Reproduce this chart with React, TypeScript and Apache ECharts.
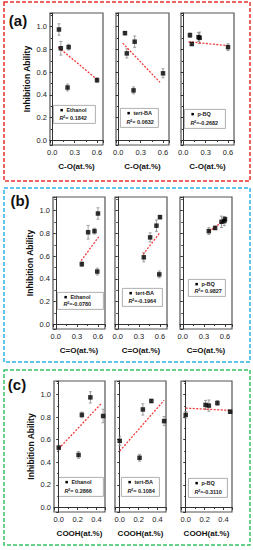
import React, { useEffect, useRef } from "react";
import * as echarts from "echarts";

// Samples A..E : x content of surface groups
const coX = [0.6, 0.205, 0.22, 0.09, 0.115];
const cdoX = [0.37, 0.59, 0.55, 0.6, 0.46];
const coohX = [0.0, 0.21, 0.245, 0.335, 0.47];

// inhibition ability (y) and error for each scavenger
const ethanolY = [0.53, 0.465, 0.82, 0.975, 0.81];
const ethanolErr = [0.02, 0.03, 0.025, 0.05, 0.06];
const tertBAY = [0.59, 0.44, 0.868, 0.943, 0.765];
const tertBAErr = [0.04, 0.03, 0.05, 0.015, 0.04];
const pBQY = [0.82, 0.908, 0.902, 0.925, 0.848];
const pBQErr = [0.03, 0.04, 0.05, 0.02, 0.015];

const scavengers = ["Ethanol", "tert-BA", "p-BQ"];

// fitted line end points [x0, y0, x1, y1]
const fitCO = [
  [0.08, 0.82, 0.61, 0.53],
  [0.06, 0.855, 0.56, 0.51],
  [0.07, 0.867, 0.6, 0.833],
];
const fitCDO = [
  [0.36, 0.56, 0.61, 0.77],
  [0.36, 0.615, 0.59, 0.8],
  [0.37, 0.815, 0.61, 0.925],
];
const fitCOOH = [
  [0.0, 0.52, 0.45, 0.92],
  [0.0, 0.5, 0.47, 0.95],
  [0.0, 0.88, 0.47, 0.86],
];

const r2CO = ["0.1842", "0.0632", "-0.2682"];
const r2CDO = ["-0.0780", "-0.1964", "0.9827"];
const r2COOH = ["0.2866", "0.1084", "-0.3110"];

const xNames = ["C-O(at.%)", "C=O(at.%)", "COOH(at.%)"];
const panelLabels = ["(a)", "(b)", "(c)"];
const yTitle = "Inhibition Ability";

const FONT = 'Arial, "Liberation Sans", Helvetica, sans-serif';

export default function App() {
  const ref = useRef<HTMLDivElement>(null);
  useEffect(() => {
    const chart = echarts.init(ref.current!, undefined, { renderer: "svg" });
    const yData = [ethanolY, tertBAY, pBQY];
    const eData = [ethanolErr, tertBAErr, pBQErr];
    const rows = [
      { xs: coX, fits: fitCO, r2: r2CO, xMin: -0.03, xMax: 0.68, xSplit: 2, step: 0.3, top: 13, h: 132, lefts: [50, 116, 181], w: 53,
        border: [4, 2, 246, 179], color: "#e8302e", label: [18, 20],
        boxes: [[53, 105, 42, 18], [120, 108, 38, 19], [184, 109, 41, 19]] },
      { xs: cdoX, fits: fitCDO, r2: r2CDO, xMin: -0.04, xMax: 0.7, xSplit: 2, step: 0.3, top: 197, h: 132, lefts: [53, 115, 180], w: 52,
        border: [4, 188, 246, 174], color: "#2fb4e6", label: [20, 200],
        boxes: [[57, 292, 46, 17], [122, 288, 40, 18], [188, 279, 37, 17]] },
      { xs: coohX, fits: fitCOOH, r2: r2COOH, xMin: -0.05, xMax: 0.49, xSplit: 3, step: 0.2, top: 381, h: 131, lefts: [54, 115, 181], w: 51,
        border: [4, 370, 246, 175], color: "#35c466", label: [17, 384],
        boxes: [[58, 477, 45, 19], [121, 477, 38, 19], [188, 478, 39, 19]] },
    ];
    const grid: any[] = [];
    const xAxis: any[] = [];
    const yAxis: any[] = [];
    const series: any[] = [];
    const graphic: any[] = [];
    const fmt = (step: number) => (v: number) => {
      const k = v / step;
      if (Math.abs(k - Math.round(k)) > 1e-6) return "";
      return Math.abs(v) < 1e-9 ? "0.0" : v.toFixed(1);
    };
    rows.forEach((r, ri) => {
      graphic.push({
        type: "rect",
        shape: { x: r.border[0], y: r.border[1], width: r.border[2], height: r.border[3] },
        style: { fill: "none", stroke: r.color, lineWidth: 1.5, lineDash: [4, 2] },
      });
      graphic.push({
        type: "text",
        x: r.label[0],
        y: r.label[1],
        style: { text: panelLabels[ri], font: `bold 15px ${FONT}`, fill: "#111", align: "center", verticalAlign: "middle" },
      });
      for (let c = 0; c < 3; c++) {
        const gi = ri * 3 + c;
        grid.push({ left: r.lefts[c], top: r.top, width: r.w, height: r.h, show: true, borderColor: "#555", borderWidth: 1.2, backgroundColor: "#fff" });
        xAxis.push({
          type: "value", gridIndex: gi, min: r.xMin, max: r.xMax, splitNumber: r.xSplit,
          name: xNames[ri], nameLocation: "middle", nameGap: 17,
          nameTextStyle: { fontFamily: FONT, fontWeight: "bold", fontSize: 8, color: "#111" },
          axisLine: { show: true, lineStyle: { color: "#333", width: 1 } },
          axisTick: { show: true, inside: false, length: 2.5, lineStyle: { color: "#333" } },
          minorTick: { show: true, splitNumber: 2, length: 1.5, lineStyle: { color: "#333" } },
          axisLabel: { fontFamily: FONT, fontSize: 7.5, color: "#222", margin: 3, formatter: fmt(r.step), showMinLabel: false, showMaxLabel: false },
          splitLine: { show: false },
        });
        yAxis.push({
          type: "value", gridIndex: gi, min: -0.04, max: 1.12, splitNumber: 5,
          name: c === 0 ? yTitle : "", nameLocation: "middle", nameGap: 19,
          nameTextStyle: { fontFamily: FONT, fontWeight: "bold", fontSize: 8.5, color: "#111" },
          axisLine: { show: true, lineStyle: { color: "#333", width: 1 } },
          axisTick: { show: true, inside: false, length: 2.5, lineStyle: { color: "#333" } },
          minorTick: { show: true, splitNumber: 2, length: 1.5, lineStyle: { color: "#333" } },
          axisLabel: { show: c === 0, fontFamily: FONT, fontSize: 7.5, color: "#222", margin: 3, formatter: fmt(0.2), showMinLabel: false, showMaxLabel: false },
          splitLine: { show: false },
        });
        const ys = yData[c];
        const es = eData[c];
        series.push({
          type: "custom", xAxisIndex: gi, yAxisIndex: gi, z: 2,
          data: r.xs.map((x, i) => [x, ys[i], es[i]]),
          encode: { x: 0, y: 1 },
          renderItem: (params: any, api: any) => {
            const x = api.value(0), y = api.value(1), e = api.value(2);
            const t = api.coord([x, y + e]);
            const b = api.coord([x, y - e]);
            const st = { stroke: "#8a8a8a", lineWidth: 0.8 };
            return {
              type: "group",
              children: [
                { type: "line", shape: { x1: t[0], y1: t[1], x2: b[0], y2: b[1] }, style: st },
                { type: "line", shape: { x1: t[0] - 1.5, y1: t[1], x2: t[0] + 1.5, y2: t[1] }, style: st },
                { type: "line", shape: { x1: b[0] - 1.5, y1: b[1], x2: b[0] + 1.5, y2: b[1] }, style: st },
              ],
            };
          },
        });
        const f = r.fits[c];
        series.push({
          type: "line", xAxisIndex: gi, yAxisIndex: gi, z: 3,
          data: [[f[0], f[1]], [f[2], f[3]]],
          showSymbol: false, symbol: "none",
          lineStyle: { color: "#f03a3a", width: 1.3, type: [2, 1.5] },
        });
        series.push({
          type: "scatter", xAxisIndex: gi, yAxisIndex: gi, z: 4,
          data: r.xs.map((x, i) => [x, ys[i]]),
          symbol: "rect", symbolSize: 4.5, itemStyle: { color: "#000" },
        });
        const bx = r.boxes[c];
        graphic.push({
          type: "group", left: bx[0], top: bx[1], z: 10,
          children: [
            { type: "rect", shape: { x: 0, y: 0, width: bx[2], height: bx[3] }, style: { fill: "#fff", stroke: "#9a9a9a", lineWidth: 0.8 } },
            { type: "rect", shape: { x: 7, y: 3.5, width: 2.5, height: 2.5 }, style: { fill: "#000" } },
            { type: "text", x: 13, y: 5, style: { text: scavengers[c], font: `bold 5.5px ${FONT}`, fill: "#222", verticalAlign: "middle" } },
            {
              type: "text", x: 6, y: bx[3] - 5,
              style: {
                text: `{i|R}{s|2}{n|=${r.r2[c].startsWith("-") ? "" : " "}${r.r2[c]}}`,
                verticalAlign: "middle",
                rich: {
                  i: { font: `italic bold 5.5px ${FONT}`, fill: "#222" },
                  s: { font: `bold 3.5px ${FONT}`, fill: "#222", verticalAlign: "top", padding: [0, 0, 3, 0] },
                  n: { font: `bold 5.5px ${FONT}`, fill: "#222" },
                },
              },
            },
          ],
        });
      }
    });
    chart.setOption({ animation: false, backgroundColor: "#fff", grid, xAxis, yAxis, series, graphic });
    return () => chart.dispose();
  }, []);
  return <div ref={ref} style={{ position: "fixed", left: 0, top: 0, width: 253, height: 550 }} />;
}
